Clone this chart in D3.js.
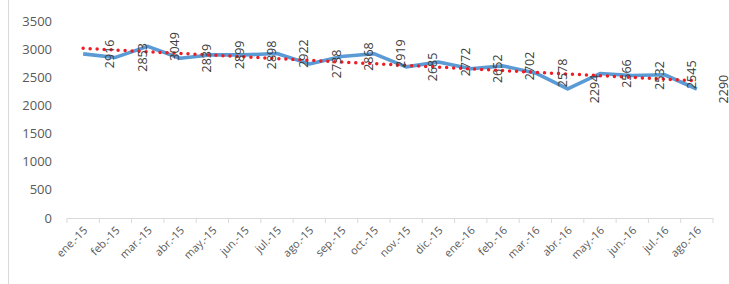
<!DOCTYPE html>
<html>
<head>
<meta charset="utf-8">
<script src="https://d3js.org/d3.v7.min.js"></script>
<style>
  body { margin: 0; background: #fff; }
  svg { display: block; font-family: "Open Sans", "Liberation Sans", sans-serif; }
</style>
</head>
<body>
<svg id="chart" width="729" height="284"></svg>
<script>
// monthly values, ene-15 .. ago-16
let months = ["ene.-15","feb.-15","mar.-15","abr.-15","may.-15","jun.-15","jul.-15","ago.-15",
    "sep.-15","oct.-15","nov.-15","dic.-15","ene.-16","feb.-16","mar.-16","abr.-16",
    "may.-16","jun.-16","jul.-16","ago.-16"];
let values = [2916,2853,3049,2839,2899,2898,2922,2738,2868,2919,2685,2772,2652,2702,2578,2294,
    2566,2532,2545,2290];
let yTicks = [0,500,1000,1500,2000,2500,3000,3500];

let margin = {top: 21, left: 67, right: 16, bottom: 66};
let svg = d3.select("#chart");
let width = 729 - margin.left - margin.right;
let height = 284 - margin.top - margin.bottom;

// left frame edge
svg.append("line")
    .attr("x1", 8.5).attr("x2", 8.5).attr("y1", 0).attr("y2", 284)
    .attr("stroke", "#d9d9d9");

let g = svg.append("g")
    .attr("transform", "translate(" + margin.left + "," + margin.top + ")");

let x = d3.scaleBand().domain(months).range([0, width]);
let y = d3.scaleLinear().domain([0, 3500]).range([height, 0]);
let cx = function (d) { return x(d) + x.bandwidth() / 2; };

// y axis (labels only)
g.append("g")
    .selectAll("text")
    .data(yTicks)
    .enter().append("text")
    .attr("x", -15)
    .attr("y", d => y(d))
    .attr("dy", "0.35em")
    .attr("text-anchor", "end")
    .style("font-size", "13px")
    .style("fill", "#595959")
    .text(d => d);

// x axis line and ticks
g.append("line")
    .attr("x1", 0).attr("x2", width)
    .attr("y1", height + 0.5).attr("y2", height + 0.5)
    .attr("stroke", "#d9d9d9");
g.append("g")
    .selectAll("line")
    .data(months.concat(["end"]))
    .enter().append("line")
    .attr("x1", (d, i) => i * x.step())
    .attr("x2", (d, i) => i * x.step())
    .attr("y1", height).attr("y2", height + 5)
    .attr("stroke", "#d9d9d9");

g.append("g")
    .selectAll("text")
    .data(months)
    .enter().append("text")
    .attr("text-anchor", "end")
    .attr("transform", d => "translate(" + (cx(d) + 5) + "," + (height + 13) + ") rotate(-45)")
    .style("font-size", "11px")
    .style("fill", "#595959")
    .text(d => d);

// series line
let line = d3.line()
    .x((d, i) => cx(months[i]))
    .y(d => y(d));

g.append("path")
    .datum(values)
    .attr("fill", "none")
    .attr("stroke", "#5b9bd5")
    .attr("stroke-width", 3.6)
    .attr("stroke-linejoin", "round")
    .attr("d", line);

// linear trendline (least squares over the series)
let n = values.length;
let mx = d3.mean(values, (d, i) => i);
let my = d3.mean(values);
let slope = d3.sum(values, (d, i) => (i - mx) * (d - my)) / d3.sum(values, (d, i) => (i - mx) * (i - mx));
let icpt = my - slope * mx;
g.append("line")
    .attr("x1", cx(months[0])).attr("y1", y(icpt))
    .attr("x2", cx(months[n - 1])).attr("y2", y(icpt + slope * (n - 1)))
    .attr("stroke", "#ee1c25")
    .attr("stroke-width", 3.5)
    .attr("stroke-linecap", "round")
    .attr("stroke-dasharray", "0 7");

// data labels, rotated, each one category to the right of its point
g.append("g")
    .selectAll("text")
    .data(values)
    .enter().append("text")
    .attr("text-anchor", "middle")
    .attr("transform", (d, i) => "translate(" + (cx(months[i]) + x.step() - 1) + "," + y(d) + ") rotate(-90)")
    .style("font-size", "12.5px")
    .style("fill", "#404040")
    .text(d => d);
</script>
</body>
</html>
